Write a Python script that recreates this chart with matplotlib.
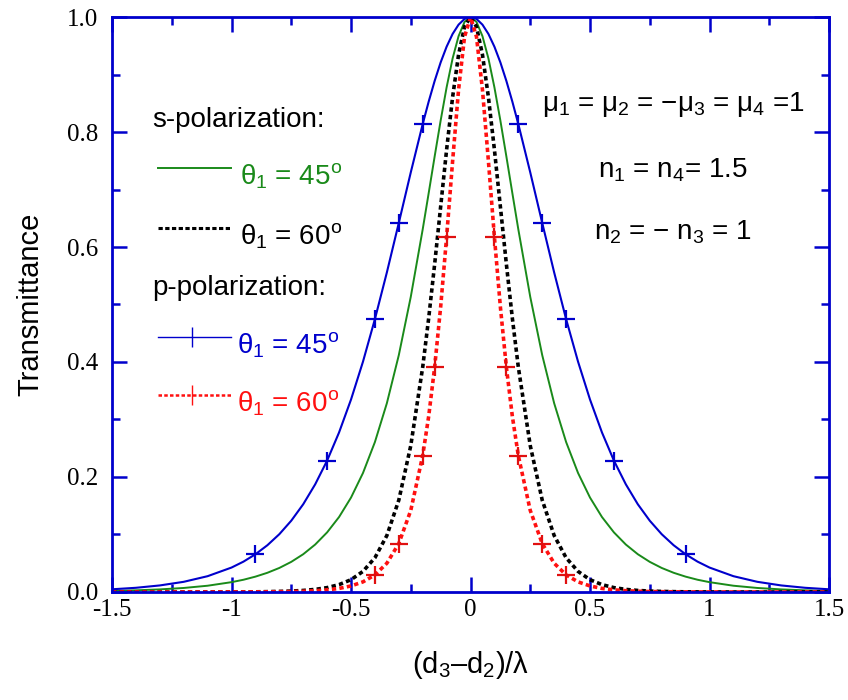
import matplotlib
matplotlib.use('Agg')
from matplotlib import pyplot as plt
from matplotlib.ticker import MultipleLocator

plt.rcParams['font.family'] = 'Liberation Sans'
plt.rcParams['mathtext.fontset'] = 'custom'
plt.rcParams['mathtext.rm'] = 'Liberation Sans'
plt.rcParams['mathtext.it'] = 'Liberation Sans'

# (d3-d2)/lambda
x_vals = [-1.5, -1.4, -1.3, -1.2, -1.1, -1.0, -0.95, -0.9, -0.85, -0.8, -0.75, -0.7,
          -0.65, -0.6, -0.55, -0.5, -0.45, -0.4, -0.35, -0.3, -0.25, -0.2, -0.175,
          -0.15, -0.125, -0.1, -0.075, -0.05, -0.025, 0.0, 0.025, 0.05, 0.075, 0.1,
          0.125, 0.15, 0.175, 0.2, 0.25, 0.3, 0.35, 0.4, 0.45, 0.5, 0.55, 0.6, 0.65,
          0.7, 0.75, 0.8, 0.85, 0.9, 0.95, 1.0, 1.1, 1.2, 1.3, 1.4, 1.5]

# s-polarization, theta1 = 45
s45 = [0.0018, 0.0029, 0.0045, 0.0070, 0.0109, 0.0171, 0.0213, 0.0267, 0.0334, 0.0418,
       0.0524, 0.0657, 0.0825, 0.1037, 0.1304, 0.1642, 0.2069, 0.2608, 0.3283, 0.4120,
       0.5132, 0.6308, 0.6938, 0.7576, 0.8198, 0.8777, 0.9278, 0.9667, 0.9915, 1.0,
       0.9915, 0.9667, 0.9278, 0.8777, 0.8198, 0.7576, 0.6938, 0.6308, 0.5132, 0.4120,
       0.3283, 0.2608, 0.2069, 0.1642, 0.1304, 0.1037, 0.0825, 0.0657, 0.0524, 0.0418,
       0.0334, 0.0267, 0.0213, 0.0171, 0.0109, 0.0070, 0.0045, 0.0029, 0.0018]

# s-polarization, theta1 = 60
s60 = [0.0, 0.0, 0.0, 0.0, 0.0, 0.0001, 0.0002, 0.0003, 0.0006, 0.0010,
       0.0016, 0.0027, 0.0045, 0.0076, 0.0128, 0.0214, 0.0358, 0.0595, 0.0982, 0.1598,
       0.2545, 0.3913, 0.4763, 0.5704, 0.6700, 0.7693, 0.8604, 0.9345, 0.9831, 1.0,
       0.9831, 0.9345, 0.8604, 0.7693, 0.6700, 0.5704, 0.4763, 0.3913, 0.2545, 0.1598,
       0.0982, 0.0595, 0.0358, 0.0214, 0.0128, 0.0076, 0.0045, 0.0027, 0.0016, 0.0010,
       0.0006, 0.0003, 0.0002, 0.0001, 0.0, 0.0, 0.0, 0.0, 0.0]

# p-polarization, theta1 = 45
p45 = [0.0047, 0.0073, 0.0114, 0.0177, 0.0275, 0.0425, 0.0528, 0.0656, 0.0813, 0.1005,
       0.1240, 0.1526, 0.1872, 0.2285, 0.2775, 0.3347, 0.4005, 0.4746, 0.5558, 0.6420,
       0.7297, 0.8139, 0.8529, 0.8889, 0.9210, 0.9484, 0.9705, 0.9867, 0.9967, 1.0,
       0.9967, 0.9867, 0.9705, 0.9484, 0.9210, 0.8889, 0.8529, 0.8139, 0.7297, 0.6420,
       0.5558, 0.4746, 0.4005, 0.3347, 0.2775, 0.2285, 0.1872, 0.1526, 0.1240, 0.1005,
       0.0813, 0.0656, 0.0528, 0.0425, 0.0275, 0.0177, 0.0114, 0.0073, 0.0047]

# p-polarization, theta1 = 60
p60 = [0.0, 0.0, 0.0, 0.0, 0.0, 0.0001, 0.0001, 0.0002, 0.0003, 0.0005,
       0.0008, 0.0013, 0.0022, 0.0037, 0.0062, 0.0105, 0.0176, 0.0297, 0.0500, 0.0843,
       0.1418, 0.2373, 0.3056, 0.3912, 0.4956, 0.6174, 0.7489, 0.8735, 0.9656, 1.0,
       0.9656, 0.8735, 0.7489, 0.6174, 0.4956, 0.3912, 0.3056, 0.2373, 0.1418, 0.0843,
       0.0500, 0.0297, 0.0176, 0.0105, 0.0062, 0.0037, 0.0022, 0.0013, 0.0008, 0.0005,
       0.0003, 0.0002, 0.0001, 0.0001, 0.0, 0.0, 0.0, 0.0, 0.0]

# where the '+' symbols sit on the p curves
p45_marks = [-0.9, -0.6, -0.4, -0.3, -0.2, 0.2, 0.3, 0.4, 0.6, 0.9]
p60_marks = [-0.4, -0.3, -0.2, -0.15, -0.1, 0.1, 0.15, 0.2, 0.3, 0.4]

x_ticks = [-1.5, -1, -0.5, 0, 0.5, 1, 1.5]
x_tick_labels = ['-1.5', '-1', '-0.5', '0', '0.5', '1', '1.5']
y_ticks = [0.0, 0.2, 0.4, 0.6, 0.8, 1.0]
y_tick_labels = ['0.0', '0.2', '0.4', '0.6', '0.8', '1.0']

BLUE = '#0000cc'
GREEN = '#1a8a1a'
RED = '#ff1010'
DOT = (0, (1.2, 0.9))

fig = plt.figure(figsize=(8.48, 7.0), dpi=100)
ax = fig.add_axes([0.1321, 0.1543, 0.8455, 0.8214])

ax.plot(x_vals, s45, color=GREEN, lw=1.4)
ax.plot(x_vals, s60, color='black', lw=2.6, linestyle=DOT)
i45 = [x_vals.index(v) for v in p45_marks]
ax.plot(x_vals, p45, color=BLUE, lw=1.5, marker='+', markevery=i45,
        markersize=13, mew=1.6)
i60 = [x_vals.index(v) for v in p60_marks]
ax.plot(x_vals, p60, color=RED, lw=2.6, linestyle=DOT, marker='+',
        markevery=i60, markersize=13, mew=1.6, markeredgecolor='#e01010')

ax.set_xlim(-1.5, 1.5)
ax.set_ylim(0, 1)
ax.set_xticks(x_ticks)
ax.set_xticklabels(x_tick_labels)
ax.set_yticks(y_ticks)
ax.set_yticklabels(y_tick_labels)
ax.xaxis.set_minor_locator(MultipleLocator(0.25))
ax.yaxis.set_minor_locator(MultipleLocator(0.1))
ax.tick_params(which='both', direction='in', top=True, right=True, color=BLUE,
               width=1.8, labelsize=18)
ax.tick_params(axis='x', which='both', pad=5)
ax.tick_params(axis='y', which='both', pad=10)
ax.tick_params(which='major', length=11)
ax.tick_params(which='minor', length=6)
for lab in ax.get_xticklabels() + ax.get_yticklabels():
    lab.set_family('Liberation Serif')
for sp in ax.spines.values():
    sp.set_color(BLUE)
    sp.set_linewidth(2)

ax.set_xlabel('(d$_3$\u2013d$_2$)/\u03bb', fontsize=21, labelpad=20)
ax.set_ylabel('Transmittance', fontsize=21, labelpad=16)

# legend drawn by hand, positions given in picture pixels
def ax_xy(px, py):
    return (px - 112) / 717, (592 - py) / 575

fs = 20
ax.text(*ax_xy(152, 120), 's-polarization:', transform=ax.transAxes, fontsize=fs,
        va='center', ha='left')
ax.text(*ax_xy(152, 288), 'p-polarization:', transform=ax.transAxes, fontsize=fs,
        va='center', ha='left')

entries = [
    (168, GREEN, 1.4, '-', None, '\u03b8$_1$ = 45$^\\mathrm{o}$', GREEN, 240),
    (228, 'black', 2.2, (0, (1.4, 0.8)), None, '\u03b8$_1$ = 60$^\\mathrm{o}$', 'black', 240),
    (337, BLUE, 1.0, '-', '+', '\u03b8$_1$ = 45$^\\mathrm{o}$', BLUE, 237),
    (395, RED, 1.8, (0, (1.4, 0.9)), '+', '\u03b8$_1$ = 60$^\\mathrm{o}$', RED, 237),
]
for py, col, lw, ls, mk, label, tcol, tx in entries:
    x0, y0 = ax_xy(158, py)
    x1, _ = ax_xy(231, py)
    ax.plot([x0, x1], [y0, y0], transform=ax.transAxes, color=col, lw=lw, ls=ls)
    if mk:
        xm, _ = ax_xy(192, py)
        ax.plot([xm], [y0], transform=ax.transAxes, marker='|', color=col,
                markersize=14, mew=1.0)
    ax.text(*ax_xy(tx, py + 8), label, transform=ax.transAxes, fontsize=fs,
            va='center', ha='left', color=tcol)

ax.text(*ax_xy(673, 104), '\u03bc$_1$ = \u03bc$_2$ = \u2212\u03bc$_3$ = \u03bc$_4$ =1',
        transform=ax.transAxes, fontsize=fs, va='center', ha='center')
ax.text(*ax_xy(673, 170), 'n$_1$ = n$_4$= 1.5', transform=ax.transAxes,
        fontsize=fs, va='center', ha='center')
ax.text(*ax_xy(673, 232), 'n$_2$ = \u2212 n$_3$ = 1', transform=ax.transAxes,
        fontsize=fs, va='center', ha='center')

fig.savefig('out.png', dpi=100)
